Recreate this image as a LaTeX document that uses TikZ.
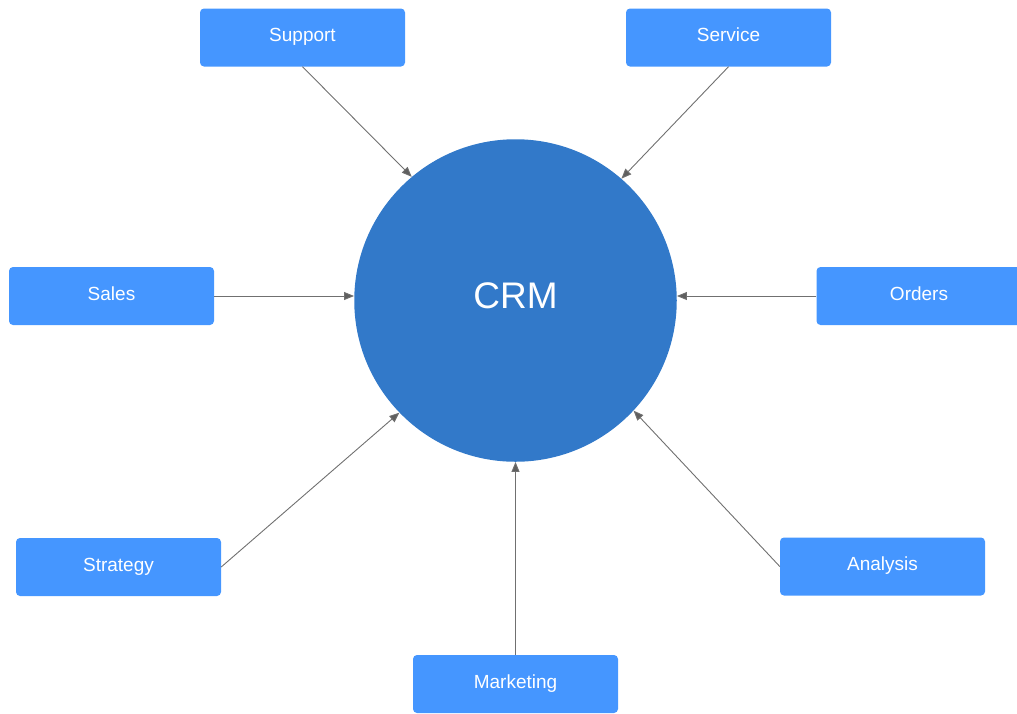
\documentclass[tikz,border=0pt]{standalone}
\usepackage{fontspec}
\setmainfont{Liberation Sans}
\usepackage{tikz}
\usetikzlibrary{arrows.meta,positioning,calc}
\definecolor{hubblue}{HTML}{3279C9}
\definecolor{unitblue}{HTML}{4596FF}
\definecolor{linkgrey}{HTML}{707070}
\tikzstyle{hub}   = [circle, fill=hubblue, text=white, minimum size=322.5pt, inner sep=0pt, font=\fontsize{37}{44}\selectfont, text height=26.5pt, text depth=9.8pt]
\tikzstyle{unit}  = [rectangle, rounded corners=4pt, fill=unitblue, text=white, minimum width=205pt, minimum height=58pt, inner sep=0pt, font=\fontsize{19}{23}\selectfont, text height=13.6pt, text depth=5pt]
\tikzstyle{arrow} = [line width=0.9pt, draw=linkgrey, -{Triangle[length=10pt,width=8pt,fill=linkgrey!85!black]}]

\begin{document}
\begin{tikzpicture}[x=1pt,y=-1pt]
        \useasboundingbox (0,0) rectangle (1017,713);

        \node[hub] (crm) at (515.5,300.5) {CRM};

        \node[unit] (support)   at (302.5,37.5)  {Support};
        \node[unit] (service)   at (728.5,37.5)  {Service};
        \node[unit] (sales)     at (111.5,296)   {Sales};
        \node[unit] (orders)    at (919,296)     {Orders};
        \node[unit] (strategy)  at (118.5,567)   {Strategy};
        \node[unit] (analysis)  at (882.5,566.5) {Analysis};
        \node[unit] (marketing) at (515.5,684)   {Marketing};

        % links end on fixed points of the circle
        \draw[arrow] (support.south) -- (crm.130);
        \draw[arrow] (service.south) -- (crm.49);
        \draw[arrow] (sales.east) -- (sales.east -| crm.west);
        \draw[arrow] (orders.west) -- (orders.west -| crm.east);
        \draw[arrow] (strategy.east) -- (crm.224);
        \draw[arrow] (analysis.west) -- (crm.-43);
        \draw[arrow] (marketing.north) -- (crm.south);
    \end{tikzpicture}
\end{document}
